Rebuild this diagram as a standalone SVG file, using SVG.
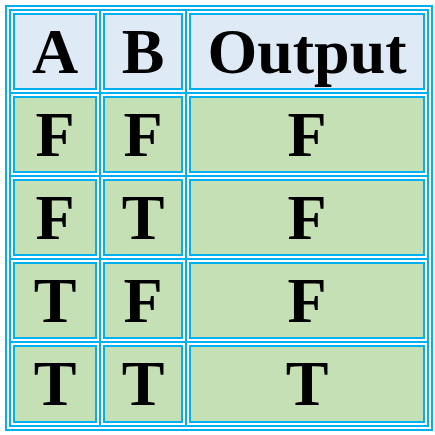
<svg xmlns="http://www.w3.org/2000/svg" width="435" height="435" viewBox="0 0 435 435">
<style>
.ln{fill:none;stroke:#00B0F0;stroke-width:2}
.hd{fill:#DEEAF6;stroke:#00B0F0;stroke-width:2}
.dt{fill:#C5E0B4;stroke:#00B0F0;stroke-width:2}
text{font-family:"Liberation Serif","Times New Roman",serif;font-weight:bold;font-size:64px;text-anchor:middle;fill:#000}
</style>
<rect width="435" height="435" fill="#fff"/>
<g id="frame">
<rect class="ln" x="6" y="6" width="426" height="424"/>
<rect class="ln" x="10" y="10" width="418" height="416"/>
</g>
<g id="grid-lines">
<line class="ln" x1="100" y1="10" x2="100" y2="426"/>
<line class="ln" x1="186" y1="10" x2="186" y2="426"/>
<line class="ln" x1="10" y1="93" x2="428" y2="93"/>
<line class="ln" x1="10" y1="176" x2="428" y2="176"/>
<line class="ln" x1="10" y1="259" x2="428" y2="259"/>
<line class="ln" x1="10" y1="342" x2="428" y2="342"/>
</g>
<g id="header">
<g id="h-a"><rect class="hd" x="14" y="14" width="82" height="75"/><text x="55" y="73">A</text></g>
<g id="h-b"><rect class="hd" x="104" y="14" width="78" height="75"/><text x="143" y="73">B</text></g>
<g id="h-out"><rect class="hd" x="190" y="14" width="234" height="75"/><text x="307" y="73">Output</text></g>
</g>
<g id="row1">
<g id="r1-a"><rect class="dt" x="14" y="97" width="82" height="75"/><text x="55" y="156">F</text></g>
<g id="r1-b"><rect class="dt" x="104" y="97" width="78" height="75"/><text x="143" y="156">F</text></g>
<g id="r1-out"><rect class="dt" x="190" y="97" width="234" height="75"/><text x="307" y="156">F</text></g>
</g>
<g id="row2">
<g id="r2-a"><rect class="dt" x="14" y="180" width="82" height="75"/><text x="55" y="239">F</text></g>
<g id="r2-b"><rect class="dt" x="104" y="180" width="78" height="75"/><text x="143" y="239">T</text></g>
<g id="r2-out"><rect class="dt" x="190" y="180" width="234" height="75"/><text x="307" y="239">F</text></g>
</g>
<g id="row3">
<g id="r3-a"><rect class="dt" x="14" y="263" width="82" height="75"/><text x="55" y="322">T</text></g>
<g id="r3-b"><rect class="dt" x="104" y="263" width="78" height="75"/><text x="143" y="322">F</text></g>
<g id="r3-out"><rect class="dt" x="190" y="263" width="234" height="75"/><text x="307" y="322">F</text></g>
</g>
<g id="row4">
<g id="r4-a"><rect class="dt" x="14" y="346" width="82" height="76"/><text x="55" y="405">T</text></g>
<g id="r4-b"><rect class="dt" x="104" y="346" width="78" height="76"/><text x="143" y="405">T</text></g>
<g id="r4-out"><rect class="dt" x="190" y="346" width="234" height="76"/><text x="307" y="405">T</text></g>
</g>
</svg>
